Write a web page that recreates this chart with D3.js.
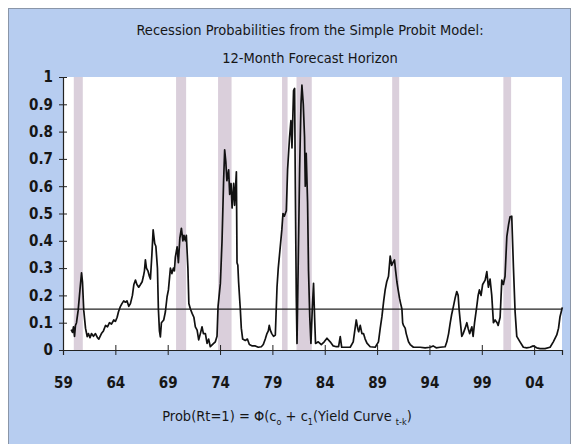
<!DOCTYPE html>
<html>
<head>
<meta charset="utf-8">
<script src="https://cdn.jsdelivr.net/npm/d3@7"></script>
<style>
  body { margin: 0; background: #fff; }
  text { font-family: "Liberation Sans Narrow", "Arial Narrow", "DejaVu Sans Condensed", sans-serif; fill: #161616; }
</style>
</head>
<body>
<svg id="canvas" width="573" height="444"></svg>
<script>
// recession probability, 12-month horizon
let years = [
  1959.78, 1959.91, 1960.00, 1960.10, 1960.19, 1960.29, 1960.45, 1960.62, 1960.77, 1960.86,
  1960.98, 1961.15, 1961.31, 1961.43, 1961.58, 1961.72, 1961.91, 1962.10, 1962.29, 1962.42,
  1962.67, 1962.86, 1963.06, 1963.25, 1963.44, 1963.63, 1963.85, 1964.01, 1964.17, 1964.30,
  1964.49, 1964.63, 1964.80, 1964.96, 1965.11, 1965.28, 1965.44, 1965.63, 1965.77, 1965.92,
  1966.06, 1966.23, 1966.40, 1966.56, 1966.68, 1966.78, 1966.87, 1966.97, 1967.11, 1967.25,
  1967.35, 1967.49, 1967.61, 1967.76, 1967.87, 1968.02, 1968.11, 1968.21, 1968.30, 1968.40,
  1968.62, 1968.78, 1968.94, 1969.07, 1969.26, 1969.40, 1969.54, 1969.64, 1969.73, 1969.90,
  1970.02, 1970.16, 1970.31, 1970.45, 1970.55, 1970.69, 1970.78, 1970.93, 1971.02, 1971.17,
  1971.33, 1971.50, 1971.64, 1971.81, 1971.96, 1972.12, 1972.28, 1972.41, 1972.60, 1972.76,
  1972.91, 1973.07, 1973.39, 1973.55, 1973.71, 1973.81, 1974.03, 1974.19, 1974.34, 1974.44,
  1974.55, 1974.65, 1974.82, 1974.92, 1975.05, 1975.15, 1975.30, 1975.39, 1975.56, 1975.62,
  1975.70, 1975.77, 1975.94, 1976.03, 1976.16, 1976.41, 1976.61, 1976.80, 1977.08, 1977.37,
  1977.65, 1977.94, 1978.13, 1978.32, 1978.48, 1978.61, 1978.70, 1978.80, 1978.94, 1979.11,
  1979.28, 1979.44, 1979.56, 1979.75, 1979.90, 1980.01, 1980.14, 1980.33, 1980.45, 1980.64,
  1980.77, 1980.87, 1981.02, 1981.12, 1981.19, 1981.28, 1981.35, 1981.42, 1981.60, 1981.73,
  1981.82, 1981.95, 1982.07, 1982.14, 1982.23, 1982.36, 1982.45, 1982.57, 1982.68, 1982.81,
  1982.93, 1983.03, 1983.12, 1983.38, 1983.67, 1983.95, 1984.21, 1984.52, 1984.81, 1985.10,
  1985.32, 1985.48, 1985.62, 1985.96, 1986.43, 1986.72, 1987.01, 1987.15, 1987.24, 1987.39,
  1987.55, 1987.70, 1987.86, 1988.03, 1988.34, 1988.82, 1989.13, 1989.30, 1989.46, 1989.63,
  1989.77, 1989.92, 1990.09, 1990.25, 1990.39, 1990.51, 1990.66, 1990.77, 1990.89, 1991.01,
  1991.14, 1991.25, 1991.37, 1991.44, 1991.52, 1991.68, 1991.78, 1992.00, 1992.16, 1992.47,
  1993.11, 1993.59, 1994.07, 1994.35, 1994.64, 1995.02, 1995.50, 1995.66, 1995.83, 1995.98,
  1996.12, 1996.29, 1996.45, 1996.61, 1996.74, 1996.83, 1996.93, 1997.09, 1997.22, 1997.41,
  1997.57, 1997.69, 1997.84, 1998.05, 1998.17, 1998.31, 1998.52, 1998.65, 1998.77, 1998.93,
  1999.08, 1999.32, 1999.48, 1999.63, 1999.79, 1999.95, 2000.11, 2000.27, 2000.46, 2000.56,
  2000.75, 2000.91, 2001.06, 2001.22, 2001.39, 2001.56, 2001.70, 2001.86, 2002.02, 2002.18,
  2002.34, 2002.65, 2002.97, 2003.29, 2003.61, 2003.92, 2004.25, 2004.56, 2005.04, 2005.52,
  2005.83, 2006.16, 2006.33, 2006.47, 2006.69
]
let probs = [
  0.075, 0.065, 0.085, 0.05, 0.09, 0.10, 0.146, 0.22, 0.283, 0.25,
  0.146, 0.08, 0.049, 0.06, 0.045, 0.06, 0.05, 0.06, 0.045, 0.04,
  0.06, 0.07, 0.09, 0.085, 0.10, 0.095, 0.11, 0.105, 0.12, 0.14,
  0.16, 0.17, 0.18, 0.175, 0.18, 0.16, 0.17, 0.20, 0.24, 0.256,
  0.24, 0.23, 0.24, 0.25, 0.27, 0.29, 0.33, 0.30, 0.29, 0.27,
  0.26, 0.35, 0.44, 0.39, 0.38, 0.30, 0.15, 0.07, 0.048, 0.10,
  0.11, 0.14, 0.195, 0.22, 0.30, 0.28, 0.30, 0.29, 0.34, 0.378,
  0.32, 0.41, 0.446, 0.40, 0.42, 0.40, 0.42, 0.30, 0.17, 0.15,
  0.134, 0.12, 0.085, 0.073, 0.037, 0.06, 0.085, 0.06, 0.06, 0.024,
  0.04, 0.012, 0.024, 0.03, 0.05, 0.16, 0.244, 0.40, 0.62, 0.733,
  0.69, 0.62, 0.66, 0.57, 0.61, 0.52, 0.61, 0.53, 0.653, 0.32,
  0.31, 0.25, 0.146, 0.08, 0.04, 0.035, 0.04, 0.02, 0.015, 0.015,
  0.01, 0.012, 0.02, 0.04, 0.06, 0.07, 0.09, 0.073, 0.06, 0.05,
  0.055, 0.23, 0.30, 0.378, 0.44, 0.50, 0.49, 0.51, 0.66, 0.78,
  0.84, 0.74, 0.95, 0.958, 0.60, 0.20, 0.024, 0.20, 0.66, 0.90,
  0.97, 0.90, 0.78, 0.60, 0.72, 0.54, 0.29, 0.12, 0.024, 0.15,
  0.244, 0.12, 0.024, 0.03, 0.02, 0.03, 0.043, 0.03, 0.015, 0.012,
  0.012, 0.049, 0.01, 0.01, 0.01, 0.03, 0.11, 0.079, 0.067, 0.09,
  0.06, 0.06, 0.04, 0.025, 0.012, 0.01, 0.03, 0.08, 0.122, 0.18,
  0.22, 0.25, 0.27, 0.344, 0.31, 0.32, 0.33, 0.29, 0.25, 0.22,
  0.19, 0.17, 0.15, 0.10, 0.09, 0.08, 0.06, 0.03, 0.02, 0.01,
  0.01, 0.008, 0.01, 0.015, 0.008, 0.01, 0.012, 0.03, 0.06, 0.098,
  0.13, 0.16, 0.19, 0.214, 0.20, 0.15, 0.11, 0.05, 0.06, 0.08,
  0.10, 0.08, 0.06, 0.085, 0.05, 0.10, 0.16, 0.20, 0.22, 0.20,
  0.24, 0.256, 0.287, 0.23, 0.26, 0.20, 0.10, 0.11, 0.10, 0.09,
  0.12, 0.256, 0.24, 0.27, 0.415, 0.46, 0.488, 0.49, 0.305, 0.14,
  0.05, 0.03, 0.01, 0.008, 0.01, 0.015, 0.008, 0.005, 0.005, 0.01,
  0.03, 0.055, 0.08, 0.122, 0.156
]

// shaded recession periods [start, end]
let recessionStart = [1960.03, 1969.80, 1973.81, 1979.92, 1981.30, 1990.44, 2001.06]
let recessionEnd   = [1960.89, 1970.76, 1975.10, 1980.45, 1982.76, 1991.11, 2001.80]

let yTicks = [0, 0.1, 0.2, 0.3, 0.4, 0.5, 0.6, 0.7, 0.8, 0.9, 1]
let xTicks = [1959, 1964, 1969, 1974, 1979, 1984, 1989, 1994, 1999, 2004]
let xTickLabels = ['59', '64', '69', '74', '79', '84', '89', '94', '99', '04']
let threshold = 0.15

let titleLines = ['Recession Probabilities from the Simple Probit Model:', '12-Month Forecast Horizon']

let svg = d3.select('#canvas')

let plotLeft = 63, plotRight = 562, plotTop = 77, plotBottom = 350

let xScale = d3.scaleLinear().domain([1959, 2006.66]).range([plotLeft, plotRight])
let yScale = d3.scaleLinear().domain([0, 1]).range([plotBottom, plotTop])

// blue panel
svg.append('rect')
   .attr('x', 8.5).attr('y', 8.5)
   .attr('width', 562).attr('height', 440)
   .attr('fill', '#b7cdf0')
   .attr('stroke', '#8a96a8')
   .attr('stroke-width', 1)

// plot background
svg.append('rect')
   .attr('x', plotLeft).attr('y', plotTop)
   .attr('width', plotRight - plotLeft).attr('height', plotBottom - plotTop)
   .attr('fill', '#ffffff')

// recession bars
svg.selectAll('.recession')
   .data(recessionStart.map((s, i) => [s, recessionEnd[i]]))
   .enter()
   .append('rect')
   .attr('class', 'recession')
   .attr('x', (d) => xScale(d[0]))
   .attr('y', plotTop)
   .attr('width', (d) => xScale(d[1]) - xScale(d[0]))
   .attr('height', plotBottom - plotTop)
   .attr('fill', '#dacfdb')

// threshold line
svg.append('line')
   .attr('x1', plotLeft).attr('x2', plotRight)
   .attr('y1', yScale(threshold)).attr('y2', yScale(threshold))
   .attr('stroke', '#222')
   .attr('stroke-width', 1.2)

// probability line
let series = years.map((y, i) => [y, probs[i]])
let line = d3.line()
    .x((d) => xScale(d[0]))
    .y((d) => yScale(d[1]))

svg.append('path')
   .datum(series)
   .attr('d', line)
   .attr('fill', 'none')
   .attr('stroke', '#111')
   .attr('stroke-width', 1.7)
   .attr('stroke-linejoin', 'round')

// y axis
let yAxis = d3.axisLeft(yScale)
    .tickValues(yTicks)
    .tickFormat((d) => d3.format('')(+d.toFixed(1)))
    .tickSize(4)
    .tickPadding(6)

let gy = svg.append('g')
   .attr('transform', 'translate(' + plotLeft + ',0)')
   .call(yAxis)
gy.select('.domain').attr('stroke', '#222').attr('stroke-width', 1.2)
gy.selectAll('.tick line').attr('stroke', '#222').attr('x2', 4).attr('x1', -4)
gy.selectAll('.tick text')
   .attr('font-size', 15)
   .attr('font-weight', 'bold')
   .attr('font-family', null)
   .attr('fill', '#161616')

// x axis
let xAxis = d3.axisBottom(xScale)
    .tickValues(xTicks)
    .tickFormat((d, i) => xTickLabels[i])
    .tickSize(5)
    .tickPadding(22)

let gx = svg.append('g')
   .attr('transform', 'translate(0,' + plotBottom + ')')
   .call(xAxis)
gx.select('.domain').attr('stroke', '#222').attr('stroke-width', 1.2)
gx.selectAll('.tick line').attr('stroke', '#222').attr('y1', -5).attr('y2', 5)
gx.selectAll('.tick text')
   .attr('font-size', 15)
   .attr('font-weight', 'bold')
   .attr('font-family', null)
   .attr('fill', '#161616')

// title
svg.selectAll('.title')
   .data(titleLines)
   .enter()
   .append('text')
   .attr('class', 'title')
   .attr('x', 310)
   .attr('y', (d, i) => 35 + i * 28)
   .attr('text-anchor', 'middle')
   .attr('font-size', 14.5)
   .text((d) => d)

// formula
let formula = svg.append('text')
   .attr('x', 287)
   .attr('y', 421)
   .attr('text-anchor', 'middle')
   .attr('font-size', 14.5)
formula.append('tspan').text('Prob(Rt=1) = \u03A6(c')
formula.append('tspan').attr('font-size', 9).attr('dy', 4).text('o')
formula.append('tspan').attr('dy', -4).text(' + c')
formula.append('tspan').attr('font-size', 9).attr('dy', 4).text('1')
formula.append('tspan').attr('dy', -4).text('(Yield Curve ')
formula.append('tspan').attr('font-size', 9).attr('dy', 4).text('t-k')
formula.append('tspan').attr('dy', -4).text(')')
</script>
</body>
</html>
